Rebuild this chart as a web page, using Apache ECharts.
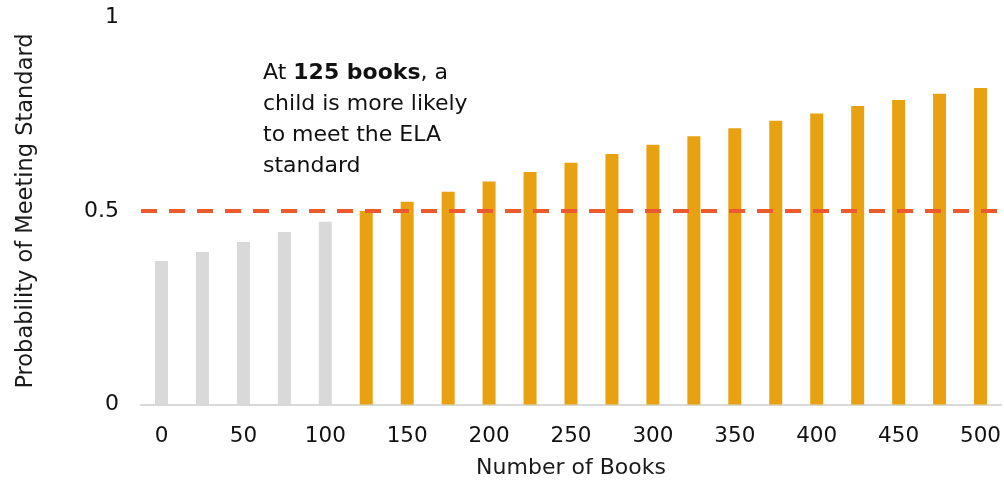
<!DOCTYPE html>
<html>
<head>
<meta charset="utf-8">
<script src="https://cdn.jsdelivr.net/npm/echarts@6/dist/echarts.min.js"></script>
<style>
  html, body { margin: 0; padding: 0; background: #fff; }
  #chart { width: 1004px; height: 482px; }
</style>
</head>
<body>
<div id="chart"></div>
<script>
// Number of books in the home (categories) and probability of meeting the ELA standard
const books = ['0', '25', '50', '75', '100', '125', '150', '175', '200', '225', '250',
               '275', '300', '325', '350', '375', '400', '425', '450', '475', '500'];
const probability = [0.371, 0.394, 0.420, 0.446, 0.472, 0.500, 0.524, 0.550, 0.576, 0.601, 0.625,
                     0.647, 0.671, 0.693, 0.714, 0.733, 0.752, 0.771, 0.787, 0.803, 0.818];
const threshold = 0.5;
const yTicks = [0, 0.5, 1];

const FONT = '"DejaVu Sans", Verdana, sans-serif';
const chart = echarts.init(document.getElementById('chart'));

chart.setOption({
  animation: false,
  textStyle: { fontFamily: FONT },
  grid: {
    left: 141, right: 3, top: 17.5, bottom: 77.5,
    containLabel: false,
    outerBoundsMode: 'none'
  },
  xAxis: {
    type: 'category',
    data: books,
    name: 'Number of Books',
    nameLocation: 'middle',
    nameGap: 53,
    nameTextStyle: { fontSize: 22, color: '#1a1a1a', fontFamily: FONT },
    axisLine: { lineStyle: { color: '#D9D9D9', width: 2 } },
    axisTick: { show: false },
    axisLabel: { interval: 1, fontSize: 21.5, color: '#111', margin: 21, fontFamily: FONT }
  },
  yAxis: {
    type: 'value',
    min: yTicks[0],
    max: yTicks[yTicks.length - 1],
    interval: 0.5,
    name: 'Probability of Meeting Standard',
    nameLocation: 'middle',
    nameGap: 103,
    nameTextStyle: { fontSize: 22.5, color: '#1a1a1a', fontFamily: FONT },
    splitLine: { show: false },
    axisLine: { show: false },
    axisTick: { show: false },
    axisLabel: { fontSize: 22, color: '#111', margin: 22, fontFamily: FONT }
  },
  series: [{
    type: 'bar',
    data: probability,
    barWidth: 13,
    itemStyle: {
      color: p => (p.value >= threshold ? '#E8A211' : '#D9D9D9')
    },
    markLine: {
      silent: true,
      symbol: 'none',
      label: { show: false },
      lineStyle: { color: '#EE5A2F', width: 4, type: [16, 12] },
      data: [{ yAxis: threshold }]
    }
  }],
  graphic: [{
    type: 'text',
    left: 263,
    top: 58,
    style: {
      text: 'At {b|125 books}, a\nchild is more likely\nto meet the ELA\nstandard',
      font: '22px ' + FONT,
      fill: '#111',
      lineHeight: 31,
      rich: {
        b: { fontWeight: 'bold', fontSize: 22, fontFamily: FONT, fill: '#111', lineHeight: 31 }
      }
    }
  }]
});
</script>
</body>
</html>
